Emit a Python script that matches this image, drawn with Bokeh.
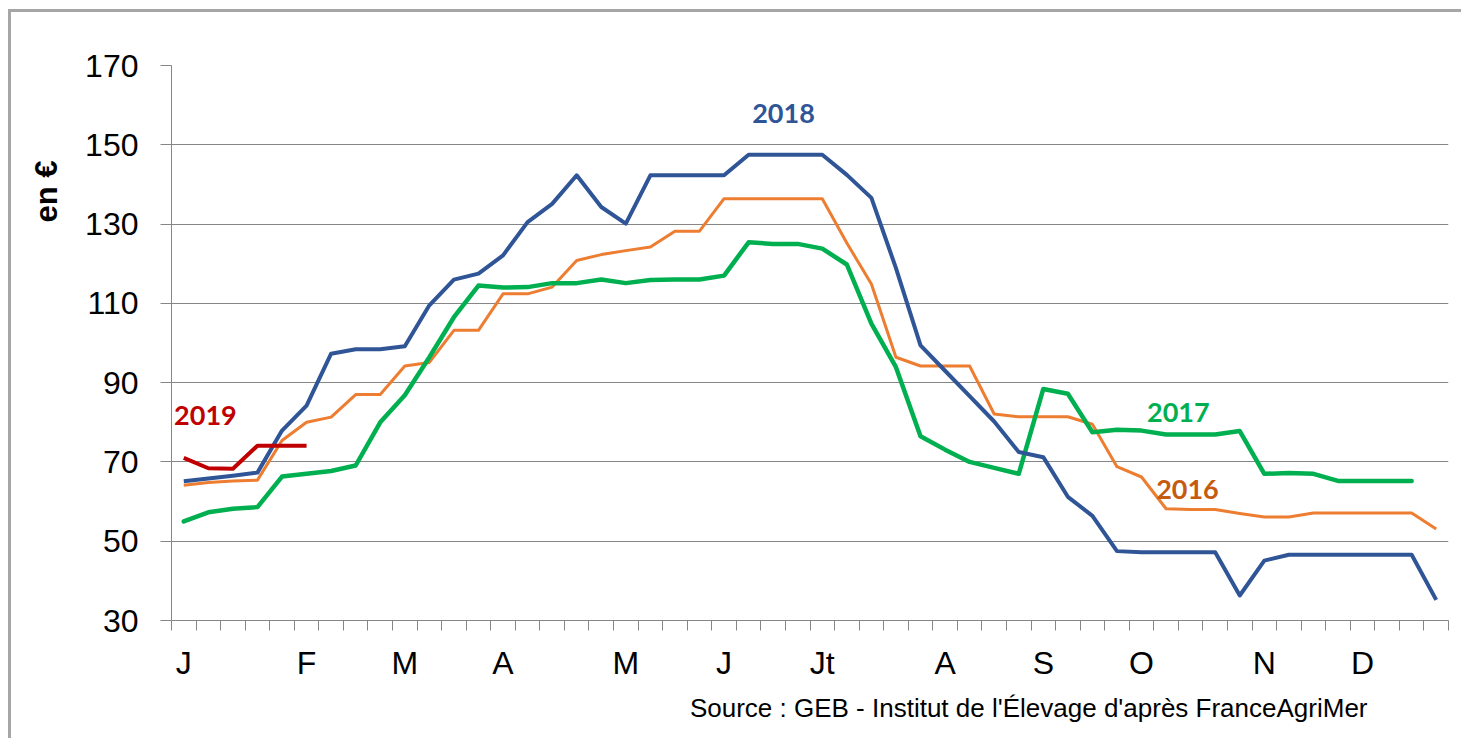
from bokeh.plotting import figure
from bokeh.models import Range1d, FixedTicker, Label, Title
from bokeh.embed import file_html
from bokeh.resources import INLINE

# ---- data -------------------------------------------------------------
weeks = list(range(1, 53))

prix_2016 = [64.1, 64.8, 65.2, 65.4, 75.4, 80.0, 81.3, 87.0, 87.0, 94.2,
             95.1, 103.2, 103.2, 112.4, 112.4, 114.1, 120.8, 122.3, 123.3, 124.2,
             128.2, 128.2, 136.4, 136.4, 136.4, 136.4, 136.4, 125.2, 114.9, 96.4,
             94.2, 94.2, 94.2, 82.1, 81.4, 81.4, 81.4, 79.5, 68.8, 66.2,
             58.2, 58.0, 58.0, 57.0, 56.1, 56.1, 57.1, 57.1, 57.1, 57.1,
             57.1, 53.1]

prix_2017 = [55.0, 57.3, 58.2, 58.6, 66.3, 67.0, 67.7, 69.1, 80.0, 86.8,
             96.4, 106.5, 114.5, 114.0, 114.1, 115.1, 115.1, 116.0, 115.1, 115.9,
             116.0, 116.0, 117.0, 125.4, 125.0, 125.0, 123.8, 119.8, 104.9, 93.9,
             76.5, 73.1, 70.0, 68.5, 67.0, 88.4, 87.2, 77.5, 78.1, 77.9,
             76.9, 76.9, 76.9, 77.8, 67.0, 67.2, 67.0, 65.2, 65.2, 65.2,
             65.2]

prix_2018 = [65.1, 65.8, 66.5, 67.3, 77.9, 84.2, 97.3, 98.4, 98.4, 99.2,
             109.5, 116.0, 117.5, 122.1, 130.5, 135.1, 142.3, 134.3, 130.1, 142.3,
             142.3, 142.3, 142.3, 147.5, 147.5, 147.5, 147.5, 142.4, 136.6, 118.9,
             99.4, 93.0, 86.6, 80.2, 72.5, 71.2, 61.2, 56.4, 47.5, 47.2,
             47.2, 47.2, 47.2, 36.3, 45.1, 46.6, 46.6, 46.6, 46.6, 46.6,
             46.6, 35.2]

prix_2019 = [71.0, 68.4, 68.3, 74.1, 74.1, 74.1]

month_labels = ["J", "F", "M", "A", "M", "J", "Jt", "A", "S", "O", "N", "D"]
month_weeks = [1, 6, 10, 14, 19, 23, 27, 32, 36, 40, 45, 49]
y_ticks = [30, 50, 70, 90, 110, 130, 150, 170]

# ---- figure -----------------------------------------------------------
FONT = "Liberation Sans"
GRAY = "#868686"

p = figure(width=1453, height=729,
           x_range=Range1d(0.5, 52.5), y_range=Range1d(30, 170),
           output_backend="svg", toolbar_location=None,
           min_border_left=160, min_border_right=16,
           min_border_top=53, min_border_bottom=121)
p.styles = {"margin-left": "8px", "margin-top": "9px",
            "border-top": "3px solid #A6A6A6", "border-left": "3px solid #A6A6A6"}
p.outline_line_color = None
p.background_fill_color = "white"
p.border_fill_color = "white"

# x axis: week boundaries as tick marks, month initials as labels
p.xaxis.ticker = FixedTicker(ticks=month_weeks,
                             minor_ticks=[w - 0.5 for w in weeks] + [52.5])
p.xaxis.major_label_overrides = {w: m for w, m in zip(month_weeks, month_labels)}
p.xaxis.major_tick_line_color = None
p.xaxis.major_tick_out = 10
p.xaxis.major_tick_in = 0
p.xaxis.minor_tick_line_color = GRAY
p.xaxis.minor_tick_out = 10
p.xaxis.minor_tick_in = 0
p.xaxis.axis_line_color = GRAY
p.xaxis.major_label_text_font = FONT
p.xaxis.major_label_text_font_size = "32px"
p.xaxis.major_label_text_color = "black"
p.xaxis.major_label_standoff = 14
p.xgrid.grid_line_color = None

# y axis
p.yaxis.ticker = FixedTicker(ticks=y_ticks)
p.yaxis.major_tick_out = 11
p.yaxis.major_tick_in = 0
p.yaxis.major_tick_line_color = GRAY
p.yaxis.minor_tick_line_color = None
p.yaxis.axis_line_color = GRAY
p.yaxis.major_label_text_font = FONT
p.yaxis.major_label_text_font_size = "32px"
p.yaxis.major_label_text_color = "black"
p.yaxis.major_label_standoff = 22
p.ygrid.grid_line_color = GRAY
p.ygrid.grid_line_width = 1.2

# ---- series -----------------------------------------------------------
p.line(weeks, prix_2016, line_color="#ED7D31", line_width=3, line_join="round")
p.line(weeks[:len(prix_2017)], prix_2017, line_color="#00B050", line_width=4.5,
       line_join="round", line_cap="round")
p.line(weeks, prix_2018, line_color="#2F5597", line_width=4, line_join="round")
p.line(weeks[:len(prix_2019)], prix_2019, line_color="#C00000", line_width=4,
       line_join="round")

# ---- series labels ----------------------------------------------------
YEAR_FONT = "Lato"
for txt, x, y, col in [("2018", 25.42, 157.9, "#2F5597"),
                       ("2019", 1.88, 81.6, "#C00000"),
                       ("2017", 41.5, 82.5, "#00B050"),
                       ("2016", 41.87, 63.0, "#C55A11")]:
    p.add_layout(Label(x=x, y=y, text=txt, text_color=col, text_font=YEAR_FONT,
                       text_font_style="bold", text_font_size="27px",
                       text_align="center", text_baseline="middle"))

# y axis title (placed near the top, like the original)
p.add_layout(Title(text="en €", align="right", offset=95, standoff=33,
                   vertical_align="top",
                   text_font=FONT, text_font_style="bold", text_font_size="31px",
                   text_color="black"), "left")

# source note
p.add_layout(Title(text="Source : GEB - Institut de l'Élevage d'après FranceAgriMer",
                   align="right", offset=81, standoff=15,
                   text_font=FONT, text_font_style="normal", text_font_size="26px",
                   text_color="black"), "below")

open("out.html", "w").write(file_html(p, INLINE))
